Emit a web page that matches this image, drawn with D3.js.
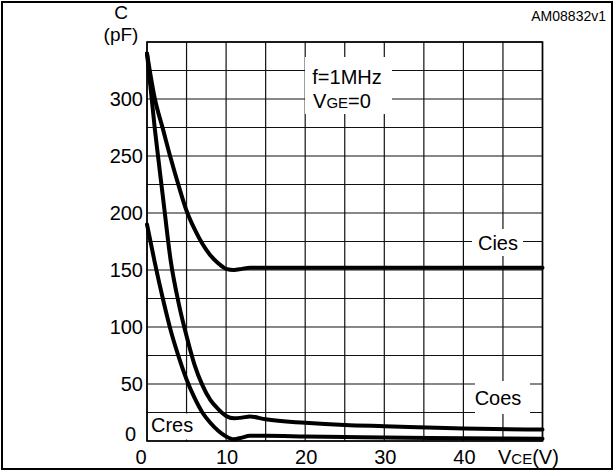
<!DOCTYPE html>
<html>
<head>
<meta charset="utf-8">
<script src="https://cdn.jsdelivr.net/npm/d3@7"></script>
<style>
  body { margin: 0; background: #fff; }
  text { font-family: "Liberation Sans", Arial, sans-serif; fill: #000; }
</style>
</head>
<body>
<div id="chart-area"></div>
<script>
// data
const vce = [0, 1, 2, 3, 4, 5, 6, 7, 8, 9, 10, 11, 12, 13, 15, 20, 25, 30, 40, 50];
const cies = [340, 300, 274, 248, 224, 202, 186, 173, 163, 156, 151, 150, 151, 152, 152, 152, 152, 152, 152, 152];
const coes = [340, 273, 215, 158, 121, 92, 67, 49, 36, 28, 22, 20, 20.5, 21.5, 19, 16, 14, 13, 11, 10];
const cres = [190, 156, 125, 97, 74, 54, 38, 25, 16, 9, 4, 1.5, 3, 4.5, 4.5, 4, 3.5, 3, 2.5, 2];
const xTicks = [0, 10, 20, 30, 40];
const yTicks = [0, 50, 100, 150, 200, 250, 300];

const WIDTH = 614, HEIGHT = 471;
const PLOT = { LEFT: 147, RIGHT: 542.5, TOP: 42, BOTTOM: 441 };

const svg = d3.select("#chart-area")
  .append("svg")
  .attr("width", WIDTH)
  .attr("height", HEIGHT);

// outer frame
svg.append("rect")
  .attr("x", 2).attr("y", 2)
  .attr("width", WIDTH - 4).attr("height", HEIGHT - 4)
  .attr("fill", "none").attr("stroke", "#000").attr("stroke-width", 2);

const x = d3.scaleLinear().domain([0, 50]).range([PLOT.LEFT, PLOT.RIGHT]);
const y = d3.scaleLinear().domain([0, 350]).range([PLOT.BOTTOM, PLOT.TOP]);

// grid
const grid = svg.append("g").attr("stroke", "#111").attr("stroke-width", 1.2);
grid.selectAll(".vg").data(d3.range(0, 51, 5)).enter().append("line")
  .attr("x1", (d) => x(d)).attr("x2", (d) => x(d))
  .attr("y1", y(0)).attr("y2", y(350));
grid.selectAll(".hg").data(d3.range(0, 351, 25)).enter().append("line")
  .attr("x1", x(0)).attr("x2", x(50))
  .attr("y1", (d) => y(d)).attr("y2", (d) => y(d));

// white boxes behind the labels
const boxes = [
  { x0: 305, y0: 57, x1: 392, y1: 114 },
  { x0: 472, y0: 229, x1: 523, y1: 256 },
  { x0: 475, y0: 381, x1: 530, y1: 414 },
  { x0: 148.5, y0: 413.5, x1: 198, y1: 439.5 },
];
svg.selectAll(".box").data(boxes).enter().append("rect")
  .attr("x", (d) => d.x0).attr("y", (d) => d.y0)
  .attr("width", (d) => d.x1 - d.x0).attr("height", (d) => d.y1 - d.y0)
  .attr("fill", "#fff");

// plot frame
svg.append("rect")
  .attr("x", x(0)).attr("y", y(350))
  .attr("width", x(50) - x(0)).attr("height", y(0) - y(350))
  .attr("fill", "none").attr("stroke", "#000").attr("stroke-width", 1.6);

// curves
const line = d3.line()
  .x((d) => x(d[0]))
  .y((d) => y(d[1]))
  .curve(d3.curveMonotoneX);

[cies, coes, cres].forEach((s) => {
  svg.append("path")
    .attr("d", line(vce.map((v, i) => [v, s[i]])))
    .attr("fill", "none")
    .attr("stroke", "#000")
    .attr("stroke-width", 4)
    .attr("stroke-linecap", "round")
    .attr("stroke-linejoin", "round");
});

// y tick labels (the 0 sits a little up and left, clear of the x-axis 0)
svg.selectAll(".ylab").data(yTicks).enter().append("text")
  .attr("x", (d) => (d === 0 ? 136 : 143))
  .attr("y", (d) => (d === 0 ? y(d) - 7 : y(d)))
  .attr("dy", "0.36em")
  .attr("text-anchor", "end")
  .attr("font-size", "20px")
  .text((d) => d);

// x tick labels
svg.selectAll(".xlab").data(xTicks).enter().append("text")
  .attr("x", (d) => (d === 0 ? x(d) - 6 : x(d) + 1))
  .attr("y", 464)
  .attr("text-anchor", "middle")
  .attr("font-size", "20px")
  .text((d) => d);

// axis titles
svg.append("text").attr("x", 121).attr("y", 19)
  .attr("text-anchor", "middle").attr("font-size", "19px").text("C");
svg.append("text").attr("x", 121).attr("y", 41)
  .attr("text-anchor", "middle").attr("font-size", "19px").text("(pF)");

const vceLabel = svg.append("text").attr("x", 498).attr("y", 464).attr("font-size", "20px");
vceLabel.append("tspan").text("V");
vceLabel.append("tspan").attr("font-size", "15px").text("CE");
vceLabel.append("tspan").text("(V)");

// conditions
svg.append("text").attr("x", 347).attr("y", 84)
  .attr("text-anchor", "middle").attr("font-size", "20px").text("f=1MHz");
const vge = svg.append("text").attr("x", 342).attr("y", 108)
  .attr("text-anchor", "middle").attr("font-size", "20px");
vge.append("tspan").text("V");
vge.append("tspan").attr("font-size", "15px").text("GE");
vge.append("tspan").text("=0");

// series labels
svg.append("text").attr("x", 498).attr("y", 250)
  .attr("text-anchor", "middle").attr("font-size", "20px").text("Cies");
svg.append("text").attr("x", 498).attr("y", 405)
  .attr("text-anchor", "middle").attr("font-size", "20px").text("Coes");
svg.append("text").attr("x", 151).attr("y", 432)
  .attr("font-size", "20px").text("Cres");

svg.append("text").attr("x", 606).attr("y", 21)
  .attr("text-anchor", "end").attr("font-size", "14px").text("AM08832v1");
</script>
</body>
</html>
